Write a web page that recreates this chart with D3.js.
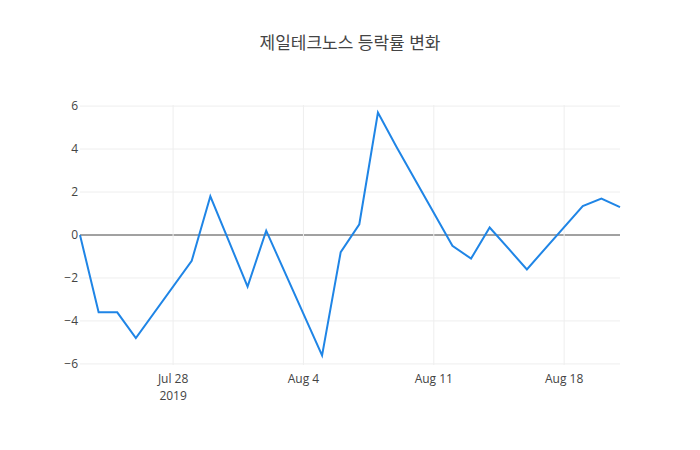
<!DOCTYPE html>
<html><head><meta charset="utf-8">
<script src="https://cdn.jsdelivr.net/npm/d3@7"></script>
<style>body{margin:0;background:#fff}text{font-family:"Open Sans","Noto Sans CJK KR",sans-serif}</style>
</head><body>
<svg id="chart" width="700" height="450"></svg>
<script>
const dates = ["2019-07-23","2019-07-24","2019-07-25","2019-07-26","2019-07-29","2019-07-30","2019-07-31","2019-08-01","2019-08-02","2019-08-05","2019-08-06","2019-08-07","2019-08-08","2019-08-09","2019-08-12","2019-08-13","2019-08-14","2019-08-16","2019-08-19","2019-08-20","2019-08-21"];
const changes = [0,-3.6,-3.6,-4.8,-1.2,1.8,-0.3,-2.4,0.2,-5.6,-0.8,0.5,5.7,4.1,-0.5,-1.1,0.35,-1.6,1.35,1.7,1.3];
const yTicks = [-6,-4,-2,0,2,4,6];
const xTicks = ["2019-07-28","2019-08-04","2019-08-11","2019-08-18"];

const parse = d3.timeParse("%Y-%m-%d");
const data = dates.map((d,i)=>({date:parse(d), v:changes[i]}));
const svg = d3.select("#chart");
const m = {l:80, r:80, t:105, b:85};
const W = 700, H = 450;
const x = d3.scaleTime().domain(d3.extent(data,d=>d.date)).range([m.l, W-m.r]);
const y = d3.scaleLinear().domain([-6.05,6.05]).range([H-m.b, m.t]);

const g = svg.append("g");
g.selectAll(".gy").data(yTicks).join("line")
  .attr("x1",m.l).attr("x2",W-m.r).attr("y1",d=>y(d)).attr("y2",d=>y(d))
  .attr("stroke",d=>d===0?"#444":"#eee").attr("stroke-width",1);
g.selectAll(".gx").data(xTicks).join("line")
  .attr("x1",d=>x(parse(d))).attr("x2",d=>x(parse(d))).attr("y1",m.t).attr("y2",H-m.b)
  .attr("stroke","#eee");
g.selectAll(".ty").data(yTicks).join("text")
  .attr("x",m.l-2).attr("y",d=>y(d)+4).attr("text-anchor","end")
  .attr("font-size",12).attr("fill","#444").text(d=>d<0?"−"+(-d):d);
const fmt = d3.timeFormat("%b %-d");
g.selectAll(".tx").data(xTicks).join("text")
  .attr("x",d=>x(parse(d))).attr("y",H-m.b+18).attr("text-anchor","middle")
  .attr("font-size",12).attr("fill","#444").text(d=>fmt(parse(d)));
g.append("text").attr("x",x(parse(xTicks[0]))).attr("y",H-m.b+35).attr("text-anchor","middle")
  .attr("font-size",12).attr("fill","#444").text("2019");

g.append("path").datum(data)
  .attr("fill","none").attr("stroke","#1f85e6").attr("stroke-width",2)
  .attr("d",d3.line().x(d=>x(d.date)).y(d=>y(d.v)));

svg.append("text").attr("x",W/2).attr("y",49).attr("text-anchor","middle")
  .attr("font-size",17).attr("fill","#444").text("제일테크노스 등락률 변화");
</script>
</body></html>
